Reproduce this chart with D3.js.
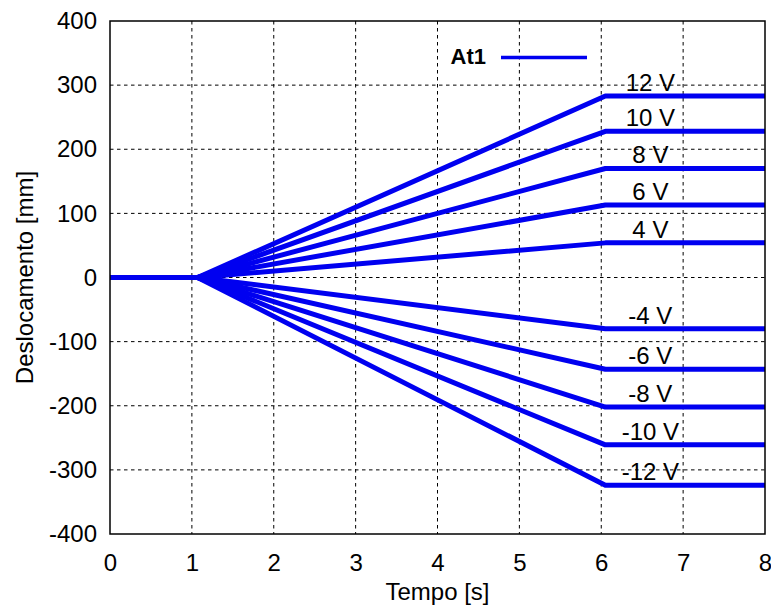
<!DOCTYPE html>
<html>
<head>
<meta charset="utf-8">
<script src="https://cdn.jsdelivr.net/npm/d3@7"></script>
<style>
  html, body { margin: 0; padding: 0; background: #fff; }
  svg { display: block; }
  text { font-family: "Liberation Sans", Arial, Helvetica, sans-serif; fill: #000; }
</style>
</head>
<body>
<svg id="chart" width="771" height="610"></svg>
<script>
// Applied voltage for each curve and the displacement it settles at [mm]
const voltages = ["12 V", "10 V", "8 V", "6 V", "4 V", "-4 V", "-6 V", "-8 V", "-10 V", "-12 V"];
const finalDisp = [283, 228, 170, 113, 54, -80, -143, -202, -261, -324];
// Time breakpoints [s]: rest, start of motion, end of motion, end of record
const tRest = 0, tStart = 1.07, tStop = 6.05, tEnd = 8;
const xTicks = [0, 1, 2, 3, 4, 5, 6, 7, 8];
const yTicks = [-400, -300, -200, -100, 0, 100, 200, 300, 400];
const legendLabel = "At1";
const labelTime = 6.6;

const svg = d3.select("#chart");
const m = { left: 110, right: 765, top: 21, bottom: 534 };

const x = d3.scaleLinear().domain([0, 8]).range([m.left, m.right]);
const y = d3.scaleLinear().domain([-400, 400]).range([m.bottom, m.top]);

// grid
const grid = svg.append("g").attr("stroke", "#000").attr("stroke-width", 1)
  .attr("stroke-dasharray", "3.5,3.5");
grid.selectAll("line.gx").data(xTicks.slice(1, -1)).join("line")
  .attr("x1", d => x(d)).attr("x2", d => x(d))
  .attr("y1", m.top).attr("y2", m.bottom);
grid.selectAll("line.gy").data(yTicks.slice(1, -1)).join("line")
  .attr("x1", m.left).attr("x2", m.right)
  .attr("y1", d => y(d)).attr("y2", d => y(d));

// axes (plain hyphen for negative numbers)
const fmt = d => String(d);
const xAxis = svg.append("g").attr("transform", `translate(0,${m.bottom})`)
  .call(d3.axisBottom(x).tickValues(xTicks).tickFormat(fmt).tickSize(0).tickPadding(20));
const yAxis = svg.append("g").attr("transform", `translate(${m.left},0)`)
  .call(d3.axisLeft(y).tickValues(yTicks).tickFormat(fmt).tickSize(0).tickPadding(13));
[xAxis, yAxis].forEach(a => {
  a.select(".domain").remove();
  a.selectAll("text").attr("font-size", 24)
    .attr("font-family", "'Liberation Sans', Arial, sans-serif").attr("fill", "#000");
});

// curves
const line = d3.line().x(d => x(d[0])).y(d => y(d[1]));
const series = finalDisp.map(v => [[tRest, 0], [tStart, 0], [tStop, v], [tEnd, v]]);
svg.append("g").selectAll("path").data(series).join("path")
  .attr("d", line).attr("fill", "none")
  .attr("stroke", "#0000f0").attr("stroke-width", 5)
  .attr("stroke-linejoin", "round");

// voltage labels
svg.append("g").selectAll("text").data(voltages).join("text")
  .attr("x", x(labelTime))
  .attr("y", (d, i) => y(finalDisp[i]) - 5)
  .attr("text-anchor", "middle").attr("font-size", 24)
  .text(d => d);

// frame
svg.append("rect")
  .attr("x", m.left).attr("y", m.top)
  .attr("width", m.right - m.left).attr("height", m.bottom - m.top)
  .attr("fill", "none").attr("stroke", "#000").attr("stroke-width", 1.5);

// legend
svg.append("text").attr("x", 486).attr("y", 64)
  .attr("text-anchor", "end").attr("font-size", 22).attr("font-weight", "bold")
  .text(legendLabel);
svg.append("line").attr("x1", 501).attr("x2", 587).attr("y1", 57.5).attr("y2", 57.5)
  .attr("stroke", "#0000f0").attr("stroke-width", 3.5);

// axis titles
svg.append("text").attr("x", (m.left + m.right) / 2).attr("y", 600)
  .attr("text-anchor", "middle").attr("font-size", 24).text("Tempo [s]");
svg.append("text")
  .attr("transform", `translate(33,${(m.top + m.bottom) / 2}) rotate(-90)`)
  .attr("text-anchor", "middle").attr("font-size", 24).text("Deslocamento [mm]");
</script>
</body>
</html>
